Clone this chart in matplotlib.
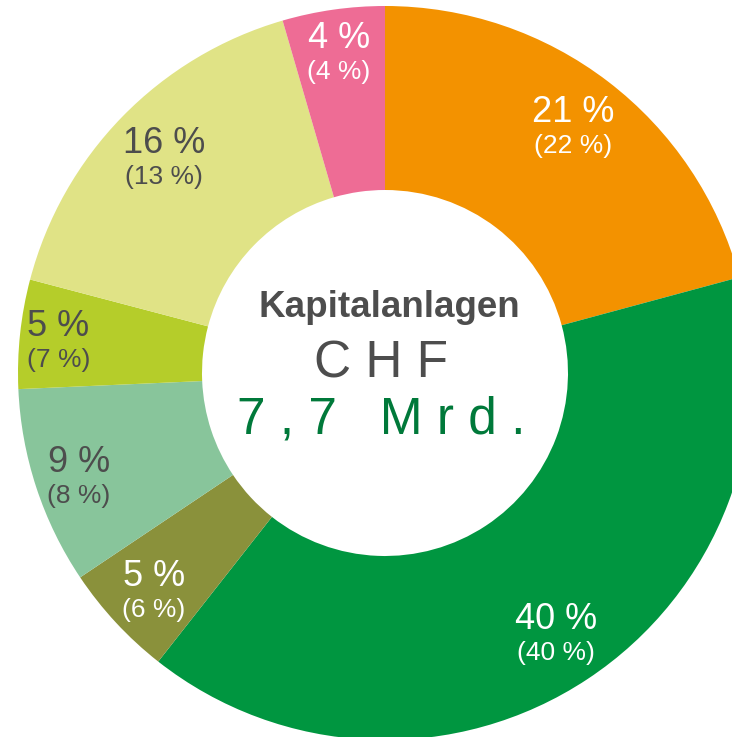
import numpy as np
import matplotlib
matplotlib.use('Agg')
import matplotlib.pyplot as plt

plt.rcParams['font.family'] = ['Liberation Sans', 'DejaVu Sans']

# Data (wedge sizes as drawn, labels as printed)
shares = [20.8, 39.8, 5.0, 8.7, 4.8, 16.4, 4.5]
label_now = [21, 40, 5, 9, 5, 16, 4]
label_prev = [22, 40, 6, 8, 7, 13, 4]
colors = ['#F39200', '#009640', '#8A913B', '#88C59B', '#B5CD2A', '#E0E386', '#EE6C95']
text_colors = ['white', 'white', 'white', '#4D4D4D', '#4D4D4D', '#4D4D4D', 'white']

# label placement: radius fraction and small angle nudge (deg, clockwise)
label_r = [0.822, 0.875, 0.886, 0.89, 0.892, 0.82, 0.853]
label_dang = [1.2, 1.3, -1.8, -2.25, -2.3, -1.6, -0.35]

W, H = 732, 737
fig = plt.figure(figsize=(W / 100, H / 100), dpi=100)
ax = fig.add_axes([0, 0, 1, 1])

cx, cy = 385, H - 373
R = 367
wedges, _ = ax.pie(shares, colors=colors, startangle=90, counterclock=False,
                   center=(cx, cy), radius=R, frame=True,
                   wedgeprops=dict(width=R - 183, linewidth=0))
ax.set_xlim(0, W)
ax.set_ylim(0, H)
ax.set_aspect('equal')
ax.axis('off')

for w, s, p, tc, lr, da in zip(wedges, label_now, label_prev, text_colors, label_r, label_dang):
    ang = np.deg2rad((w.theta1 + w.theta2) / 2 - da)
    x = cx + R * lr * np.cos(ang)
    y = cy + R * lr * np.sin(ang)
    ax.text(x, y + 15.5, f'{s} %', ha='center', va='baseline', fontsize=26, color=tc)
    ax.text(x, y - 15.5, f'({p} %)', ha='center', va='baseline', fontsize=19, color=tc)

ax.text(389, H - 317, 'Kapitalanlagen', ha='center', va='baseline',
        fontsize=26.5, fontweight='bold', color='#4D4D4D')
ax.text(381, H - 377, 'C H F', ha='center', va='baseline',
        fontsize=37, color='#4D4D4D')
ax.text(381, H - 433, '7 , 7   M r d .', ha='center', va='baseline',
        fontsize=37, color='#00793A')

fig.savefig('out.png', dpi=100)
